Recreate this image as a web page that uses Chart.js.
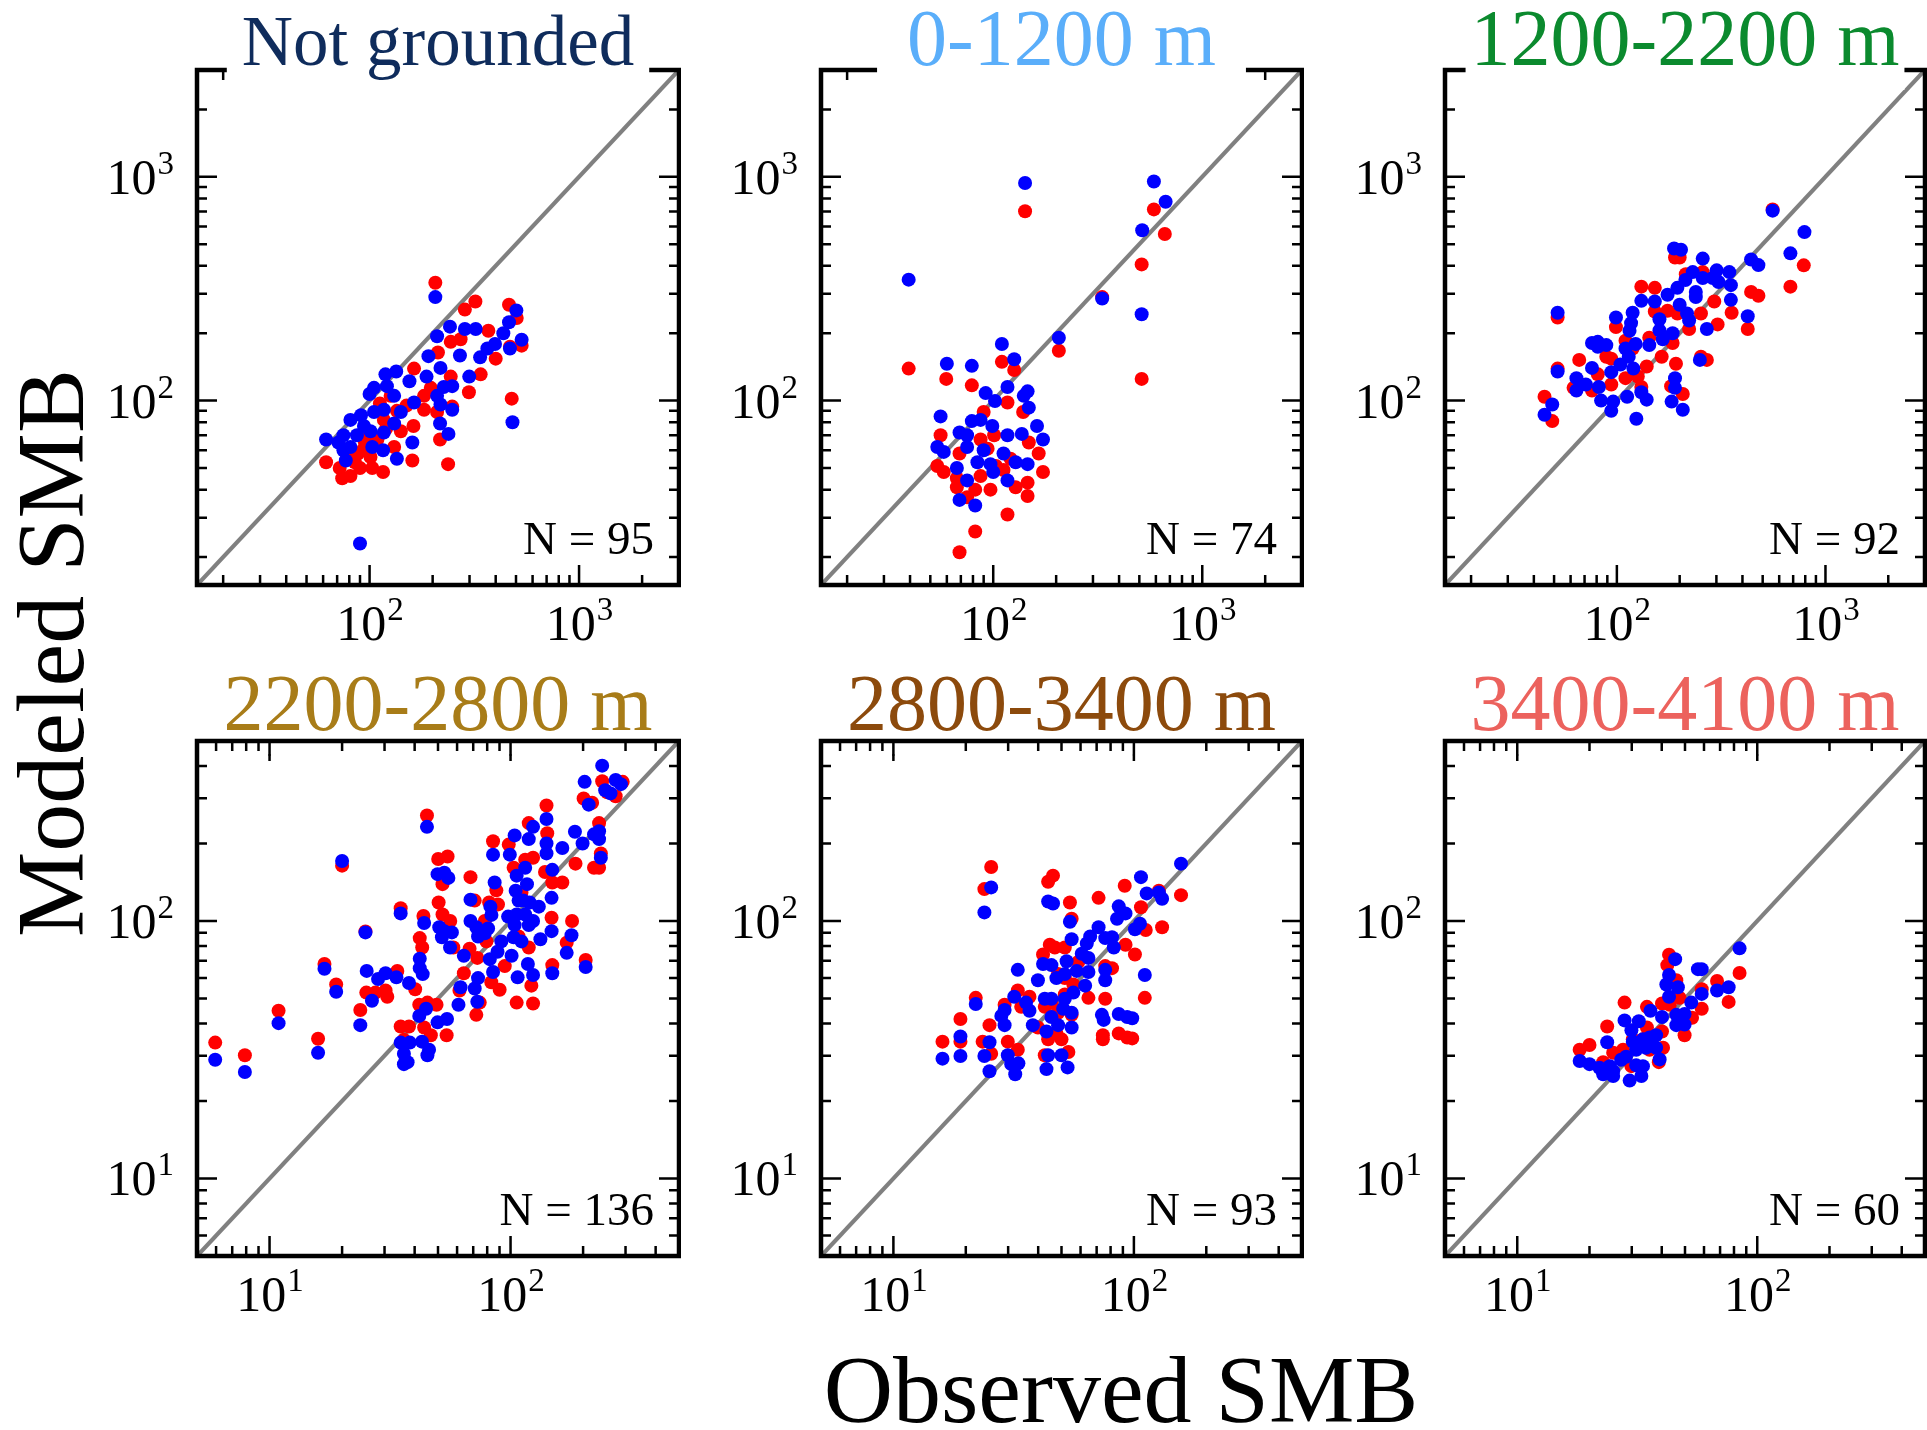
<!DOCTYPE html>
<html>
<head>
<meta charset="utf-8">
<title>Modeled vs observed SMB</title>
<script src="https://cdn.jsdelivr.net/npm/chart.js@4.4.1/dist/chart.umd.min.js"></script>
<style>
  html, body { margin: 0; padding: 0; background: #fff; overflow: hidden; }
  body { position: relative; width: 1927px; height: 1430px; font-family: "Liberation Serif", "Times New Roman", serif; }
  canvas { position: absolute; }
  .axis-label { position: absolute; width: 900px; height: 96px; line-height: 96px; font-size: 96px; text-align: center; color: #000; white-space: nowrap; }
  #ylab { left: -399px; top: 605px; transform: rotate(-90deg); }
  #xlab { left: 671px; top: 1342px; }
</style>
</head>
<body>
<div class="axis-label" id="ylab">Modeled SMB</div>
<div class="axis-label" id="xlab">Observed SMB</div>

<script>
// ---- data: [observed, modeled] pairs, red and blue model runs ----
var ngRed = [[206,336],[285,255],[320,277],[463,268],[504,234],[369,205],[272,188],[244,183],[212,164],[400,154],[468,174],[532,176],[339,131],[298,109],[244,128],[477,102],[182,105],[163,139],[210,89],[248,94],[217,67],[237,52],[162,77],[160,54],[141,73],[131,62],[116,48],[103,50],[101,56],[81,46],[74,45],[62,53],[117,82],[126,105],[112,97],[93,60],[85,53],[72,50],[109,67],[182,91],[196,114],[88,58],[95,65],[78,55],[100,70],[120,75],[135,90],[150,95],[90,50]];
var ngBlue = [[206,290],[502,253],[463,224],[435,200],[532,187],[468,171],[397,179],[365,171],[337,156],[321,209],[285,209],[242,214],[210,194],[270,159],[299,128],[191,158],[218,140],[226,115],[248,116],[210,105],[248,91],[218,96],[217,79],[238,71],[481,80],[187,128],[163,98],[155,122],[141,89],[131,79],[160,65],[135,55],[117,72],[116,60],[103,62],[117,91],[134,135],[119,131],[121,116],[131,105],[105,114],[100,107],[105,89],[101,73],[91,86],[81,82],[87,70],[94,77],[75,70],[75,60],[71,65],[62,67],[77,54],[81,62],[90,23]];

var lowRed = [[142,701],[587,715],[662,555],[513,406],[332,290],[513,125],[206,167],[39.4,139],[59.6,125],[79,117],[110,149],[126,137],[117,98],[90,89],[139,89],[56,70],[54,51],[58,48],[69,58],[67,41],[67,45],[75,37],[82,40],[87,46],[97,40],[103,51],[112,49],[128,41],[146,43],[146,37.5],[173,48],[165,58],[148,65],[101,70],[94,61],[117,31],[82,26],[69,21],[87,67],[121,55]];
var lowBlue = [[142,938],[587,953],[668,773],[516,577],[332,286],[513,243],[206,191],[39.4,347],[110,179],[60,146],[79,143],[126,153],[117,115],[92,108],[102,99.6],[140,105],[146,110],[148,93],[56,85],[54,62],[58,59],[69,72],[75,70],[79,81],[87,82],[99,77],[117,70],[137,71],[162,77],[173,67],[112,58],[128,53],[146,52],[67,50],[75,44],[84,53],[97,52],[100,48],[69,36],[82,34],[117,44],[75,62],[90,60]];

var midRed = [[558,715],[787,402],[679,323],[440,306],[477,294],[424,209],[355,247],[304,219],[270,152],[253,157],[190,436],[200,436],[131,323],[152,319],[152,250],[175,252],[195,245],[214,367],[258,375],[293,277],[253,245],[222,209],[185,181],[164,157],[192,146],[99,213],[94,154],[89,157],[81,131],[66,152],[52,139],[52,235],[45,104],[49,81],[62,114],[76,111],[94,118],[110,126],[126,128],[139,142],[131,115],[182,116],[207,107],[110,185],[119,171],[143,191]];
var midBlue = [[558,706],[793,566],[679,455],[440,427],[477,403],[424,238],[346,375],[352,328],[352,282],[301,382],[307,339],[288,353],[258,431],[258,353],[239,306],[231,375],[213,346],[195,319],[188,478],[203,472],[175,297],[200,268],[217,245],[222,228],[239,290],[270,209],[250,152],[131,279],[152,277],[119,247],[99,235],[117,222],[115,205],[160,206],[166,188],[160,231],[185,200],[81,183],[89,177],[81,174],[110,171],[123,179],[143,177],[104,145],[94,134],[120,139],[114,157],[76,140],[64,126],[71,118],[64,111],[82,115],[84,100],[96,99],[94,90],[112,104],[131,109],[139,101],[124,83],[183,99],[207,91],[190,126],[190,114],[52,135],[52,247],[49,96],[45,86.5],[76,181]];

var highRed = [[5.95,33.7],[7.9,30.1],[10.9,44.8],[15.9,34.9],[16.9,68.1],[18.9,56.7],[20,164],[23.8,45.1],[25,91],[25.2,52.7],[27.5,52.7],[30.3,53.7],[30.8,50.8],[33.9,64],[35,112],[35,38.9],[37.9,38.9],[36.1,34.6],[40.2,54.3],[42,85.8],[43,78.9],[43.5,104.5],[45,257],[41.8,47.3],[45.2,48.2],[43.8,38.6],[46.7,36],[49.3,47.3],[54.3,36],[50.1,174],[54.8,178],[52.2,139],[50.3,118],[52.2,106],[56.2,100],[57.9,78.9],[68.2,148],[71,120],[67.6,78],[64,62.7],[61.4,53.7],[72.8,71.9],[72.1,43.2],[74.5,48.2],[81.5,118],[84.6,204],[87.3,131.5],[88.7,116],[83.2,57.8],[90.1,54.1],[98.3,198],[103,161],[106,48.2],[108,87],[119,240],[115,173],[124,176],[119,78.9],[122,56.1],[124,47.8],[141,281],[142,219],[139,155],[149,141],[148,103],[164,141],[149,67.4],[171,82.4],[180,100],[186,167],[205,70.6],[201,299],[218,288],[222,161],[233,161],[233,240],[237,183],[240,349],[252,316],[273,305],[292,347],[111,129],[94.6,66.8],[78.2,100],[79.4,83.3]];
var highBlue = [[5.95,28.9],[7.9,25.9],[10.9,40.1],[15.9,30.8],[16.9,65.2],[18.9,53.1],[20,171],[23.8,39.4],[25,90.3],[25.3,64],[26.6,49],[28.2,59.5],[30.3,62.7],[33.6,60.4],[35,107],[37.9,57.4],[35,33.7],[38.2,33.7],[36.1,30.5],[37.4,28.3],[36.1,27.8],[42,71.4],[42,65.6],[43.2,62.2],[43.8,98.2],[45,232],[41.8,42.8],[44.6,45.6],[42.9,34],[45.9,31.6],[45.2,30.1],[49.8,40.4],[54.5,41.6],[49.8,152],[53.1,154],[55.2,147],[50.6,94.6],[53.1,91.3],[51.9,86.5],[57.1,90.3],[56.1,78.9],[60.8,47.3],[62,55.3],[64,73.3],[68.2,121],[68.2,100],[72.1,94.6],[73.3,87],[71,54.7],[73.3,60],[72.8,48.6],[78.2,89.6],[80.7,93.6],[82.5,113.7],[83.3,105.6],[84.6,181],[85.9,141],[82,71.1],[84.6,63.4],[88.3,76],[91.6,83.3],[97.7,104],[99.3,181],[104,215],[106,150],[105,131],[108,120],[106,106],[104,96.4],[103,86.5],[101,73.3],[107,60.4],[115,161],[117,139],[119,208],[124,232],[113,120],[120,118],[115,106],[124,100],[111,83.3],[119,96.4],[118,68.1],[124,61.7],[133,84.9],[131,113.7],[141,249],[141,200],[141,183],[149,158],[148,123],[148,91.3],[149,62.7],[164,192],[171,75.2],[179,88],[185,222],[199,200],[203,347],[205,66.3],[211,283],[222,217],[233,223],[233,208],[237,176],[240,401],[247,322],[260,313],[273,353],[287,340]];

var upperRed = [[25.5,162],[23.9,133],[46.1,150],[44,142],[54.2,118],[71.3,123],[91.6,137],[127,131],[157,126],[107,113],[131,94.6],[112,92.3],[92.3,80.9],[101,74.1],[76,66.8],[81.1,65.6],[76,49.9],[111,50.3],[86.5,36.6],[93.8,35.3],[98.4,35],[74.3,36],[74.3,34.7],[64.7,50.3],[58.7,69.3],[55.1,102],[51.6,78.9],[46.9,78.9],[44.7,80.9],[41.9,74.1],[48.4,62.2],[51.6,60],[56,56.7],[51.6,51.8],[45.4,48.2],[42.6,46.4],[48.4,44],[55.1,43.2],[36.8,50.8],[34,46.4],[32.9,53.7],[29,47.3],[22,50.3],[19,41.6],[16,34],[19,34],[25.1,39.4],[23.5,34],[29.9,34],[25.5,30.5],[32.9,31.6],[42.6,30.1],[44,34.7],[50,34.7],[53.4,31],[47.6,36.6],[39.9,38.6]];
var upperBlue = [[157,167],[107,148],[113,128],[127,129],[131,122],[25.5,135],[23.9,108],[44,119],[46.1,117],[54.2,99.3],[55.1,84.9],[71.3,94.6],[86.5,114],[92.3,107],[85.1,102],[106,97.5],[101,92.9],[76,85.8],[81.1,86.5],[82.5,78.9],[65.8,87],[63.7,81.8],[60.7,74.6],[64.7,71.9],[52.5,69.8],[41.9,68.1],[45.4,67.4],[32.9,64.6],[39.9,58.9],[47.6,60],[51.6,62.2],[57.8,64],[64.7,63.4],[62.7,56.1],[76,64.6],[76,58.9],[111,61.7],[56,52.7],[51.6,49.9],[42.6,49.9],[45.4,49.9],[35.6,48.2],[36.8,44.8],[31.8,50.8],[22,47.6],[29,45.1],[28.1,42.8],[29,39.4],[50.8,45.6],[55.1,44],[45.4,42.4],[48.4,39.4],[55.1,38.6],[43.3,37.2],[38,39.4],[73.6,43.2],[74.9,41.3],[86.5,43.5],[93.8,42.4],[98.4,41.9],[19,35.6],[25.1,33.8],[16,29.2],[19,29.9],[23.9,29.9],[29.9,30.1],[30.9,27.8],[33.1,28],[32.1,25.4],[25.1,26.1],[44,30.1],[50,30.1],[43.3,26.6],[53,27]];

var topRed = [[84.4,62.8],[76,48.5],[68,58.5],[58.7,54.3],[58.7,45.6],[53.5,42.1],[49.8,36],[42.9,73.9],[42.2,67.4],[46,58.9],[47.5,50.3],[43.2,47.3],[40.1,47.8],[34.7,46.4],[28,48.2],[23.7,38.9],[40.1,37.2],[34.7,38.6],[30.3,34.7],[20,33],[18.2,31.6],[25.1,30.8],[27.6,31.6],[22.8,28.3],[29.9,27.3],[38.9,28.3],[35.6,31.6],[33.4,34.7],[40.5,32.2]];
var topBlue = [[84.4,78.3],[76,55.3],[68,53.7],[58.7,65],[56.6,65],[58.7,52.1],[53.1,48.2],[45.5,71.1],[42.9,61.7],[41.8,56.7],[46.7,55.3],[42.9,50.8],[46,43.2],[49.8,43.5],[46,39.4],[49.8,39.6],[40.1,42.4],[35.9,44.8],[32.1,40.8],[28,41.1],[29.9,37.6],[23.7,33.8],[30.3,34],[33.4,34.7],[35.6,35.3],[37.9,36],[31.3,31.6],[34.4,32.2],[37.9,32.2],[18.2,28.6],[20,27.8],[22,26.9],[24.3,27.3],[27.1,28.9],[28.4,29.7],[22.8,25.4],[25.1,25],[25.1,26.1],[29.4,24],[32.9,25],[33.4,27.3],[39.2,29],[31.3,27.5]];

var panelTitles = ['Not grounded', '0-1200 m', '1200-2200 m', '2200-2800 m', '2800-3400 m', '3400-4100 m'];
var panelCounts = [95, 74, 92, 136, 93, 60];
var redSeries = [ngRed, lowRed, midRed, highRed, upperRed, topRed];
var blueSeries = [ngBlue, lowBlue, midBlue, highBlue, upperBlue, topBlue];

// axis ranges and tick positions for the two rows
var topRowRange = [15, 3000];
var bottomRowRange = [5, 500];
var topRowDecades = [100, 1000];
var bottomRowDecades = [10, 100];
var topRowMinor = [20, 30, 40, 50, 60, 70, 80, 90, 200, 300, 400, 500, 600, 700, 800, 900, 2000];
var bottomRowMinor = [6, 7, 8, 9, 20, 30, 40, 50, 60, 70, 80, 90, 200, 300, 400];

// ---- styling / placement ----
var titleColors = ['#0f2c5c', '#5aaefa', '#0b8a2e', '#a87c18', '#8c4a0c', '#ec625d'];
var titleSizes = [71, 80, 80, 80, 80, 80];
var titleGap = [15, 30, 5, 0, 0, 0];      // white gap cut into the top spine
var boxes = [
  { left: 197, top: 70, w: 482, h: 515 },
  { left: 821, top: 70, w: 481, h: 515 },
  { left: 1445, top: 70, w: 480, h: 515 },
  { left: 197, top: 741, w: 482, h: 515 },
  { left: 821, top: 741, w: 481, h: 515 },
  { left: 1445, top: 741, w: 480, h: 515 }
];
var AXIS_W = 130, AXIS_H = 80, PAD_R = 2;
var SERIF = '"Liberation Serif", "Times New Roman", serif';

Chart.defaults.font.family = SERIF;
Chart.defaults.color = '#000';

// draws "10" with a raised exponent; anchor 'center' (x axis) or 'right' (y axis)
function powerLabel(ctx, v, x, baseline, anchor) {
  var exp = String(Math.round(Math.log10(v)));
  ctx.font = '50px ' + SERIF;
  var w1 = ctx.measureText('10').width;
  ctx.font = '33px ' + SERIF;
  var w2 = ctx.measureText(exp).width;
  var start = anchor === 'center' ? x - (w1 + w2) / 2 : x - w1 - w2;
  ctx.textAlign = 'left';
  ctx.textBaseline = 'alphabetic';
  ctx.font = '50px ' + SERIF;
  ctx.fillText('10', start, baseline);
  ctx.font = '33px ' + SERIF;
  ctx.fillText(exp, start + w1 + 1, baseline - 20);
}

// box, inward ticks on all four sides, tick labels, title and sample count
var panelFrame = {
  id: 'panelFrame',
  afterDraw: function (chart, args, o) {
    var ctx = chart.ctx, a = chart.chartArea, x = chart.scales.x, y = chart.scales.y;
    ctx.save();
    ctx.strokeStyle = '#000';
    ctx.fillStyle = '#000';
    ctx.lineCap = 'butt';
    ctx.lineWidth = 2.5;
    var all = o.minor.concat(o.decades);
    all.forEach(function (v) {
      var len = o.decades.indexOf(v) >= 0 ? 20 : 10;
      var px = x.getPixelForValue(v), py = y.getPixelForValue(v);
      ctx.beginPath();
      if (px > a.left + 2 && px < a.right - 2) {
        ctx.moveTo(px, a.bottom); ctx.lineTo(px, a.bottom - len);
        ctx.moveTo(px, a.top); ctx.lineTo(px, a.top + len);
      }
      if (py > a.top + 2 && py < a.bottom - 2) {
        ctx.moveTo(a.left, py); ctx.lineTo(a.left + len, py);
        ctx.moveTo(a.right, py); ctx.lineTo(a.right - len, py);
      }
      ctx.stroke();
    });
    ctx.lineWidth = 4.5;
    ctx.strokeRect(a.left, a.top, a.right - a.left, a.bottom - a.top);

    // faint specks under the top spine at the decades (bottom row)
    if (!o.knockout) {
      o.decades.forEach(function (v) {
        ctx.fillRect(x.getPixelForValue(v) - 1, a.top + 13, 2, 2);
      });
    }

    o.decades.forEach(function (v) {
      powerLabel(ctx, v, x.getPixelForValue(v), a.bottom + 55, 'center');
      powerLabel(ctx, v, a.left - 24, y.getPixelForValue(v) + 17, 'right');
    });

    var cx = (a.left + a.right) / 2;
    ctx.font = o.titleSize + 'px ' + SERIF;
    ctx.textAlign = 'center';
    ctx.textBaseline = 'alphabetic';
    if (o.knockout) {
      var tw = ctx.measureText(o.title).width;
      ctx.fillStyle = '#fff';
      ctx.fillRect(cx - tw / 2 - o.gap, a.top - 6, tw + 2 * o.gap, 26);
    }
    ctx.fillStyle = o.color;
    ctx.fillText(o.title, cx, a.top + o.titleDy);

    ctx.font = '47px ' + SERIF;
    ctx.textAlign = 'right';
    ctx.fillStyle = '#000';
    ctx.fillText('N = ' + o.count, a.right - 25, a.bottom - 31);
    ctx.restore();
  }
};

function makePanel(i) {
  var b = boxes[i];
  var topRow = i < 3;
  var range = topRow ? topRowRange : bottomRowRange;
  var decades = topRow ? topRowDecades : bottomRowDecades;
  var minor = topRow ? topRowMinor : bottomRowMinor;
  var padTop = topRow ? 70 : 100;

  var cv = document.createElement('canvas');
  cv.width = AXIS_W + b.w + PAD_R;
  cv.height = padTop + b.h + AXIS_H;
  cv.style.left = (b.left - AXIS_W) + 'px';
  cv.style.top = (b.top - padTop) + 'px';
  document.body.appendChild(cv);

  function axis(isX) {
    return {
      type: 'logarithmic',
      min: range[0],
      max: range[1],
      grid: { display: false },
      border: { display: false },
      ticks: { display: false },
      afterFit: function (s) { if (isX) s.height = AXIS_H; else s.width = AXIS_W; }
    };
  }

  new Chart(cv, {
    type: 'scatter',
    data: {
      datasets: [
        {
          data: [{ x: range[0], y: range[0] }, { x: range[1], y: range[1] }],
          showLine: true, borderColor: '#808080', borderWidth: 4.2,
          pointRadius: 0, order: 3
        },
        {
          data: redSeries[i].map(function (p) { return { x: p[0], y: p[1] }; }),
          backgroundColor: '#ff0000', borderWidth: 0, pointRadius: 7, order: 2
        },
        {
          data: blueSeries[i].map(function (p) { return { x: p[0], y: p[1] }; }),
          backgroundColor: '#0000ff', borderWidth: 0, pointRadius: 7, order: 1
        }
      ]
    },
    options: {
      responsive: false,
      animation: false,
      devicePixelRatio: 1,
      layout: { autoPadding: false, padding: { left: 0, top: padTop, right: PAD_R, bottom: 0 } },
      plugins: {
        legend: { display: false },
        tooltip: { enabled: false },
        panelFrame: {
          title: panelTitles[i],
          color: titleColors[i],
          titleSize: titleSizes[i],
          gap: titleGap[i],
          count: panelCounts[i],
          knockout: topRow,
          titleDy: topRow ? -5 : -11,
          decades: decades,
          minor: minor
        }
      },
      scales: { x: axis(true), y: axis(false) }
    },
    plugins: [panelFrame]
  });
}

for (var i = 0; i < 6; i++) makePanel(i);
</script>
</body>
</html>
